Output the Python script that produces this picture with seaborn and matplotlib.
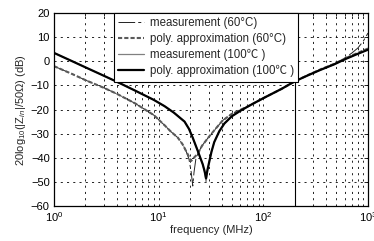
import numpy as np
import pandas as pd
import matplotlib
matplotlib.use("Agg")
import matplotlib.pyplot as plt
import matplotlib.ticker as mticker
import seaborn as sns

# ---- data ----
freq_meas_60 = [1, 1.5, 2, 3, 4, 6, 9, 11.4, 13, 15.3, 17, 18.3, 19.5, 20.5, 21.2, 21.8, 22.7, 23.7, 26, 30, 35, 41, 50, 60, 73.6, 100, 150, 200, 274, 350, 474, 614, 700, 800, 900, 1000]
meas_60 = [-2, -5.3, -7.8, -11, -13.5, -17.5, -22.3, -26.5, -29, -31.7, -34.5, -37.2, -40.5, -46, -51.7, -46, -40.5, -38.3, -35, -31.5, -28, -24.5, -21.8, -20.2, -18.4, -15.3, -11.4, -8.3, -5.5, -3.4, -1.1, 1.6, 3.4, 5.5, 8.3, 11.7]

freq_approx_60 = [1, 1.5, 2, 3, 4, 6, 9, 11.4, 13, 15.3, 17, 18.3, 19.5, 20.5, 21.5, 23.7, 26, 30, 35, 41, 50, 60, 73.6, 100, 150, 200, 274, 350, 474, 614, 800, 1000]
approx_60 = [-2, -5.3, -7.8, -11, -13.5, -17.5, -22.3, -26.5, -29, -31.7, -34.5, -37.2, -39.5, -41.3, -40.2, -38.3, -35, -31.5, -28, -24.5, -21.8, -20.2, -18.4, -15.3, -11.4, -8.3, -5.5, -3.4, -1.1, 1.3, 3.5, 5.3]

freq_meas_100 = [1, 1.5, 2, 3, 4, 6, 9, 11.4, 14, 17.7, 19.5, 21.2, 23.7, 26.4, 27.5, 28.4, 29.3, 30.6, 32, 34, 38, 42.5, 50, 60, 73.6, 100, 150, 200, 274, 350, 474, 614, 800, 1000]
meas_100 = [3.5, 0, -2.5, -6, -8.5, -12.2, -16, -18.6, -21.3, -25, -28, -31.7, -37.2, -42.7, -46, -50, -45.5, -41.3, -37.5, -33.5, -29, -25.8, -22.8, -20.6, -18.4, -15.3, -11.4, -8.3, -5.6, -3.6, -1.3, 1.0, 3.1, 4.8]

freq_approx_100 = [1, 1.5, 2, 3, 4, 6, 9, 11.4, 14, 17.7, 19.5, 21.2, 23.7, 26.4, 27.5, 28.4, 29.3, 30.6, 32, 34, 38, 42.5, 50, 60, 73.6, 100, 150, 200, 274, 350, 474, 614, 800, 1000]
approx_100 = [3.5, 0, -2.5, -6, -8.5, -12.2, -16, -18.6, -21.3, -25, -28, -31.7, -37.2, -42.7, -45.5, -48.5, -45, -41.3, -37.5, -33.5, -29, -25.8, -22.8, -20.6, -18.4, -15.3, -11.4, -8.3, -5.6, -3.6, -1.3, 1.0, 3.1, 4.8]

labels = ["measurement (60°C)", "poly. approximation (60°C)",
          "measurement (100℃ )", "poly. approximation (100℃ )"]
cutoff_freq = 200
y_ticks = [-60, -50, -40, -30, -20, -10, 0, 10, 20]

# ---- style ----
sns.set_theme(style="white")
plt.rcParams['font.family'] = ['Liberation Sans', 'Noto Sans CJK SC', 'DejaVu Sans']
plt.rcParams['mathtext.fontset'] = 'custom'
plt.rcParams['mathtext.rm'] = 'Liberation Sans'
plt.rcParams['mathtext.it'] = 'Liberation Sans:italic'
plt.rcParams['lines.scale_dashes'] = False

fig = plt.figure(figsize=(3.74, 2.41), dpi=100)
ax = fig.add_axes([0.144, 0.145, 0.840, 0.801])

series = [
    (freq_meas_60, meas_60, dict(color="#222222", lw=0.7, dashes=(12, 2.2, 2.2, 2.2))),
    (freq_approx_60, approx_60, dict(color="#5a5a5a", lw=1.5, dashes=(3, 1.5))),
    (freq_meas_100, meas_100, dict(color="#808080", lw=0.9)),
    (freq_approx_100, approx_100, dict(color="black", lw=1.6)),
]
handles = []
for (fx, fy, kw), lab in zip(series, labels):
    df = pd.DataFrame({"f": fx, "v": fy})
    style = dict(kw)
    dashes = style.pop("dashes", None)
    sns.lineplot(data=df, x="f", y="v", ax=ax, sort=False, estimator=None,
                 label=lab, **style)
    line = ax.get_lines()[-1]
    if dashes is not None:
        line.set_dashes(dashes)
    handles.append(line)

ax.axvline(cutoff_freq, color="black", lw=0.8, zorder=1)

ax.set_xscale("log")
ax.set_xlim(1, 1000)
ax.set_ylim(-60, 20)
ax.set_yticks(y_ticks)
ax.xaxis.set_major_locator(mticker.LogLocator(base=10, numticks=10))
ax.xaxis.set_minor_locator(mticker.LogLocator(base=10, subs=np.arange(2, 10), numticks=20))
ax.xaxis.set_major_formatter(mticker.LogFormatterMathtext())
ax.xaxis.set_minor_formatter(mticker.NullFormatter())

grid_kw = dict(color="black", lw=0.6, linestyle=(0, (1.5, 3)))
ax.grid(True, which="major", axis="both", **grid_kw)
ax.grid(True, which="minor", axis="x", **grid_kw)

ax.tick_params(which="both", direction="in", top=True, right=True,
               labelsize=8, colors="black", pad=3)
ax.tick_params(which="major", length=3, width=0.6)
ax.tick_params(which="minor", length=2, width=0.6)
for s in ax.spines.values():
    s.set_color("black")
    s.set_linewidth(0.9)

ax.set_xlabel("frequency (MHz)", fontsize=8, labelpad=1)
ax.set_ylabel("20log$_{10}$(|Z$_{in}$|/50Ω) (dB)", fontsize=8, labelpad=2)

leg = ax.legend(handles=handles, labels=labels, loc="upper left",
                bbox_to_anchor=(0.19, 1.0), fontsize=8.3, frameon=True,
                fancybox=False, framealpha=1, edgecolor="black",
                handlelength=2.3, handletextpad=0.45, labelspacing=0.34,
                borderpad=0.38, borderaxespad=0)
leg.get_frame().set_linewidth(0.8)

fig.savefig("out.png", dpi=100)
